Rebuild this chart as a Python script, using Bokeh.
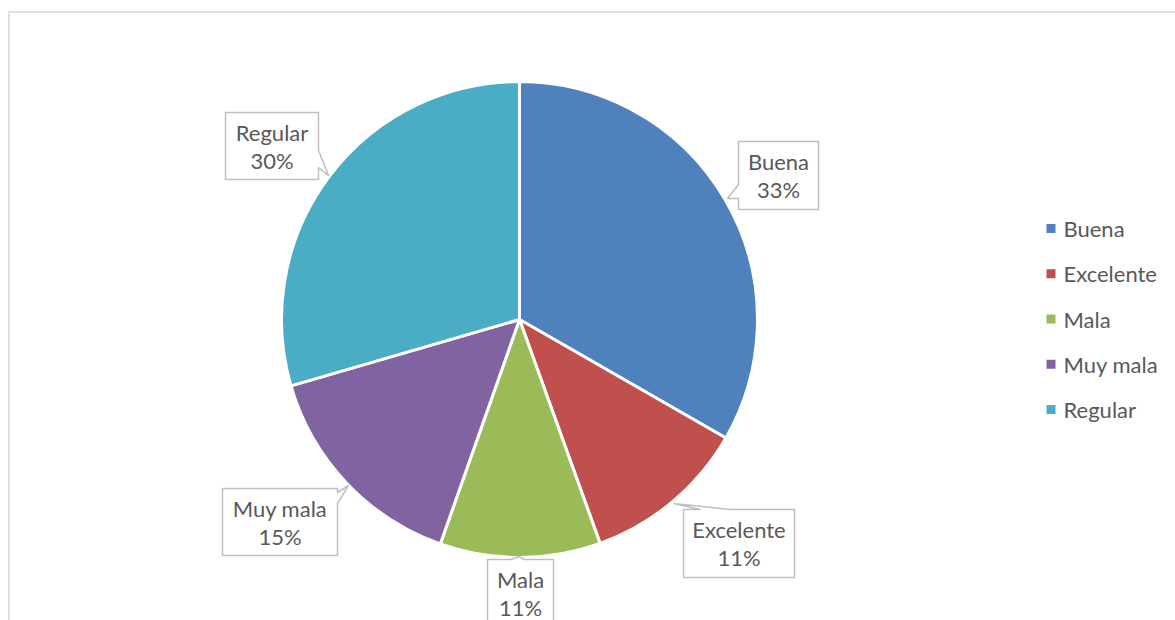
import numpy as np
from bokeh.plotting import figure
from bokeh.models import Range1d, ColumnDataSource
from bokeh.core.properties import value
from bokeh.embed import file_html
from bokeh.resources import INLINE

# ---- data ----
categories = ["Buena", "Excelente", "Mala", "Muy mala", "Regular"]
shares = [33.3, 11.2, 10.9, 15.1, 29.5]
colors = ["#4F81BD", "#C0504D", "#9BBB59", "#8064A2", "#4BACC6"]

# ---- layout (page pixel coordinates) ----
W, H = 1175, 620
def dx(px):
    return px
def dy(py):
    return H - py

CX, CY, R = 519, 319, 238
# callout boxes: (left, top, right, bottom), edge, base1, base2, tip
callouts = [
    ((738, 141, 818, 209), "left", 184, 198, (727, 198)),
    ((683, 509, 794, 577), "top", 700, 730, (673, 503)),
    ((487, 559, 553, 627), "top", 511, 524, (518, 556)),
    ((222, 488, 337, 555), "right", 492, 503, (348, 485)),
    ((225, 112, 318, 179), "right", 150, 167, (328, 175)),
]
TEXT_COLOR = "#595959"
FONT = value("Lato")
FS = "22px"

p = figure(width=W, height=H, x_range=Range1d(0, W), y_range=Range1d(0, H),
           output_backend="svg", toolbar_location=None, min_border=0)
p.axis.visible = False
p.grid.visible = False
p.outline_line_color = None
p.background_fill_color = "white"

# outer chart frame (only top and left edges visible)
p.segment(x0=[8, 8.5], y0=[dy(11.5), dy(11.5)], x1=[W, 8.5], y1=[dy(11.5), 0],
          line_color="#D9D9D9", line_width=1.6)

# pie
frac = np.array(shares, dtype=float) / sum(shares)
cum = np.concatenate([[0], np.cumsum(frac)])
start = np.pi / 2 - 2 * np.pi * cum[:-1]
end = np.pi / 2 - 2 * np.pi * cum[1:]
src = ColumnDataSource(dict(start=start, end=end, color=colors, cat=categories))
p.wedge(x=dx(CX), y=dy(CY), radius=R, start_angle="start", end_angle="end",
        direction="clock", fill_color="color", line_color="white", line_width=3,
        source=src)

# callouts
for (box, edge, b1, b2, tip), cat, f in zip(callouts, categories, frac):
    l, t, r, b = box
    pts = [(l, t)]
    if edge == "top":
        pts += [(b1, t), tip, (b2, t)]
    pts += [(r, t)]
    if edge == "right":
        pts += [(r, b1), tip, (r, b2)]
    pts += [(r, b), (l, b)]
    if edge == "left":
        pts += [(l, b2), tip, (l, b1)]
    xs = [dx(x) for x, _ in pts]
    ys = [dy(y) for _, y in pts]
    p.patch(xs, ys, fill_color="white", line_color="#BFBFBF", line_width=1.5)
    cxb = (l + r) / 2
    cyb = (t + b) / 2
    p.text(x=[dx(cxb), dx(cxb)], y=[dy(cyb - 14), dy(cyb + 14)],
           text=[cat, f"{round(f * 100)}%"], text_font=FONT, text_font_size=FS,
           text_color=TEXT_COLOR, text_align="center", text_baseline="middle")

# legend
leg_y = [228 + 45.25 * i for i in range(len(categories))]
p.scatter(x=[dx(1050.5)] * len(categories), y=[dy(y) for y in leg_y],
          marker="square", size=9, fill_color=colors, line_color=None)
p.text(x=[dx(1063)] * len(categories), y=[dy(y) for y in leg_y], text=categories,
       text_font=FONT, text_font_size=FS, text_color=TEXT_COLOR,
       text_align="left", text_baseline="middle")

open("out.html", "w").write(file_html(p, INLINE))
